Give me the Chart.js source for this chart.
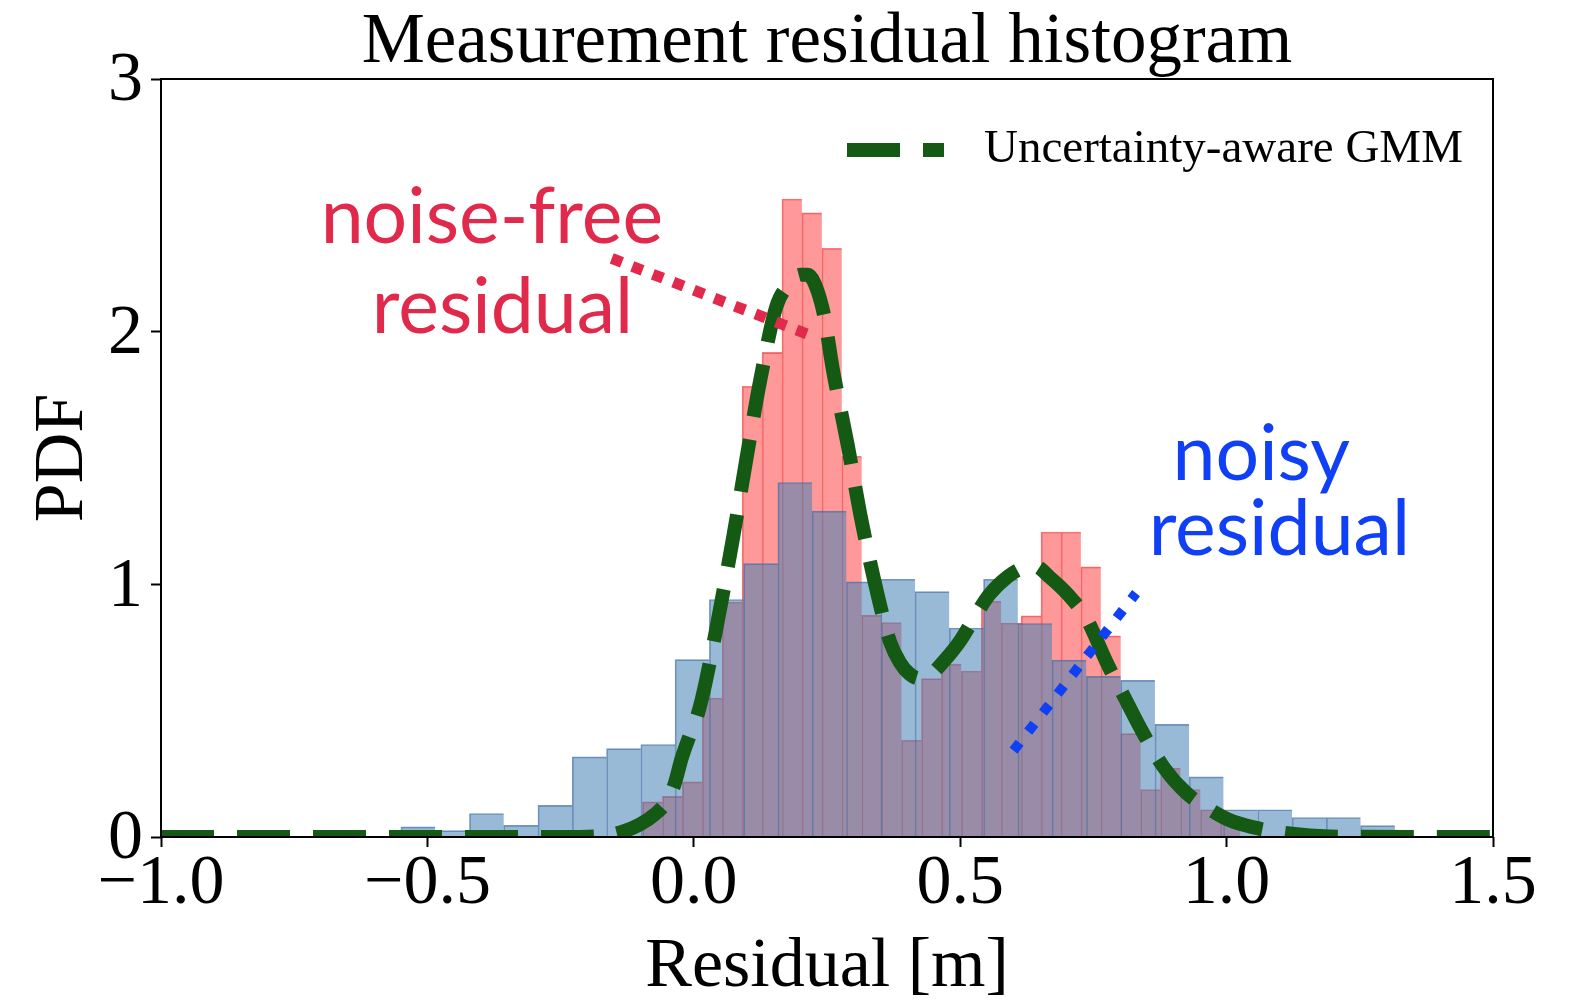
<!DOCTYPE html>
<html>
<head>
<meta charset="utf-8">
<title>Measurement residual histogram</title>
<script src="https://cdn.jsdelivr.net/npm/chart.js@4.4.1/dist/chart.umd.min.js"></script>
<style>
  html, body { margin: 0; padding: 0; background: #fff; }
</style>
</head>
<body>
<canvas id="hist" width="1575" height="1004"></canvas>
<script>
// noisy residuals: bin centres [m] and PDF heights
const noisyBins = [-0.5176, -0.4532, -0.3889, -0.3246, -0.2603, -0.1959, -0.1316, -0.0673, -0.0030,
  0.0614, 0.1257, 0.1900, 0.2543, 0.3187, 0.3830, 0.4473, 0.5117, 0.5760, 0.6403, 0.7046,
  0.7690, 0.8333, 0.8976, 0.9620, 1.0263, 1.0906, 1.1550, 1.2193, 1.2836];
const noisyPdf = [0.04, 0.025, 0.093, 0.046, 0.125, 0.317, 0.35, 0.366, 0.702,
  0.94, 1.082, 1.403, 1.29, 1.01, 1.02, 0.971, 0.827, 1.02, 0.845, 0.70,
  0.636, 0.62, 0.446, 0.238, 0.108, 0.108, 0.077, 0.077, 0.045];

// noise-free residuals
const cleanBins = [-0.0776, -0.0402, -0.0028, 0.0346, 0.0720, 0.1094, 0.1468, 0.1842, 0.2216, 0.2590,
  0.2964, 0.3338, 0.3712, 0.4086, 0.4460, 0.4834, 0.5208, 0.5582, 0.5956, 0.6330,
  0.6704, 0.7078, 0.7452, 0.7826, 0.8200, 0.8574, 0.8948, 0.9322, 0.9696, 1.0070];
const cleanPdf = [0.139, 0.161, 0.218, 0.55, 0.93, 1.784, 1.918, 2.525, 2.47, 2.33,
  1.507, 0.878, 0.849, 0.383, 0.627, 0.684, 0.657, 0.933, 0.847, 0.875,
  1.207, 1.207, 1.069, 0.796, 0.409, 0.188, 0.273, 0.188, 0.108, 0.082];

// GMM density
const gmmX = [-1.0, -0.739, -0.458, -0.251, -0.176, -0.135, -0.101, -0.073, -0.051, -0.036, -0.023,
  -0.008, 0.008, 0.022, 0.049, 0.075, 0.099, 0.124, 0.155, 0.180, 0.199, 0.214, 0.227, 0.244,
  0.261, 0.272, 0.289, 0.315, 0.346, 0.368, 0.387, 0.405, 0.424, 0.443, 0.471, 0.501, 0.527,
  0.555, 0.589, 0.615, 0.640, 0.668, 0.702, 0.737, 0.776, 0.809, 0.842, 0.884, 0.924, 0.968,
  1.006, 1.053, 1.099, 1.156, 1.212, 1.5];
const gmmY = [0, 0, 0, 0, 0.004, 0.02, 0.05, 0.09, 0.14, 0.21, 0.31,
  0.40, 0.49, 0.61, 0.90, 1.20, 1.50, 1.80, 2.10, 2.19, 2.225, 2.225, 2.19, 2.07,
  1.85, 1.73, 1.55, 1.25, 0.95, 0.775, 0.69, 0.645, 0.627, 0.64, 0.70, 0.78, 0.87,
  0.96, 1.03, 1.063, 1.072, 1.028, 0.96, 0.865, 0.686, 0.55, 0.416, 0.27, 0.175, 0.11,
  0.066, 0.037, 0.019, 0.006, 0.001, 0];

// dotted pointers from the labels
const cleanPointerX = [-0.154, 0.221];
const cleanPointerY = [2.29, 1.984];
const noisyPointerX = [0.600, 0.830];
const noisyPointerY = [0.342, 0.965];

const xTicks = [-1, -0.5, 0, 0.5, 1, 1.5];
const yTicks = [0, 1, 2, 3];

const serif = 'Liberation Serif';
const sans = 'Lato';
const green = '#145a14';
const crimson = '#e0294b';
const blue = '#1040f5';

const notes = [
  {text: 'noise-free', x: -0.379, y: 2.349, color: crimson},
  {text: 'residual', x: -0.359, y: 1.993, color: crimson},
  {text: 'noisy', x: 1.065, y: 1.412, color: blue},
  {text: 'residual', x: 1.099, y: 1.115, color: blue}
];

function toPts(xs, ys) {
  return xs.map((x, i) => ({x: x, y: ys[i]}));
}

function tickText(v) {
  return (v < 0 ? '\u2212' : '') + Math.abs(v).toFixed(1);
}

// frame, legend and the two text labels
const overlay = {
  id: 'overlay',
  afterDatasetsDraw(chart) {
    const {ctx, chartArea: a, scales} = chart;
    const x = scales.x, y = scales.y;
    ctx.save();

    ctx.strokeStyle = '#000';
    ctx.lineWidth = 2;
    ctx.strokeRect(a.left, a.top, a.right - a.left, a.bottom - a.top);

    const gmm = chart.data.datasets[0];
    ctx.beginPath();
    ctx.setLineDash(gmm.borderDash);
    ctx.lineWidth = gmm.borderWidth;
    ctx.strokeStyle = gmm.borderColor;
    ctx.moveTo(847, 150);
    ctx.lineTo(944, 150);
    ctx.stroke();
    ctx.setLineDash([]);
    ctx.fillStyle = '#000';
    ctx.font = '47px "' + serif + '"';
    ctx.textAlign = 'left';
    ctx.textBaseline = 'middle';
    ctx.fillText(gmm.label, 984, 150);

    ctx.font = '77px "' + sans + '"';
    ctx.textAlign = 'center';
    ctx.textBaseline = 'alphabetic';
    notes.forEach(n => {
      ctx.fillStyle = n.color;
      ctx.fillText(n.text, x.getPixelForValue(n.x), y.getPixelForValue(n.y));
    });
    ctx.restore();
  }
};

const font70 = {family: serif, size: 70, lineHeight: 1};

const hiddenX = {type: 'linear', min: -1, max: 1.5, display: false, offset: false};

var ctx = document.getElementById('hist').getContext('2d');
var histChart = new Chart(ctx, {
  type: 'line',
  data: {
    datasets: [
      {
        label: 'Uncertainty-aware GMM',
        data: toPts(gmmX, gmmY),
        xAxisID: 'x',
        borderColor: green,
        borderWidth: 14,
        borderDash: [53, 23],
        pointRadius: 0,
        cubicInterpolationMode: 'monotone',
        clip: 0,
        order: 2
      },
      {
        label: 'noisy',
        type: 'bar',
        data: toPts(noisyBins, noisyPdf),
        xAxisID: 'xb',
        backgroundColor: 'rgba(70,130,180,0.55)',
        borderColor: 'rgba(60,105,160,0.7)',
        borderWidth: {left: 1, right: 0, top: 1, bottom: 0},
        borderSkipped: false,
        barPercentage: 1,
        categoryPercentage: 1,
        grouped: false,
        order: 3
      },
      {
        label: 'noise-free',
        type: 'bar',
        data: toPts(cleanBins, cleanPdf),
        xAxisID: 'xr',
        backgroundColor: 'rgba(255,0,0,0.4)',
        borderColor: 'rgba(235,40,40,0.6)',
        borderWidth: {left: 1, right: 0, top: 1, bottom: 0},
        borderSkipped: false,
        barPercentage: 1,
        categoryPercentage: 1,
        grouped: false,
        order: 4
      },
      {
        label: 'clean pointer',
        data: toPts(cleanPointerX, cleanPointerY),
        xAxisID: 'x',
        borderColor: crimson,
        borderWidth: 11,
        borderDash: [11, 11],
        pointRadius: 0,
        clip: false,
        order: 1
      },
      {
        label: 'noisy pointer',
        data: toPts(noisyPointerX, noisyPointerY),
        xAxisID: 'x',
        borderColor: blue,
        borderWidth: 10,
        borderDash: [10, 14],
        pointRadius: 0,
        clip: false,
        order: 1
      }
    ]
  },
  options: {
    responsive: false,
    animation: false,
    events: [],
    layout: {padding: {left: 0, right: 82, top: 0, bottom: 0}},
    scales: {
      x: {
        type: 'linear',
        min: -1,
        max: 1.5,
        offset: false,
        afterBuildTicks: s => { s.ticks = xTicks.map(v => ({value: v})); },
        afterFit: s => { s.height = 167; },
        ticks: {
          callback: v => tickText(v),
          font: font70,
          color: '#000',
          padding: 3,
          maxRotation: 0,
          autoSkip: false
        },
        grid: {drawOnChartArea: false, offset: false, tickLength: 10, tickWidth: 2, tickColor: '#000'},
        border: {display: false},
        title: {display: true, text: 'Residual [m]', font: font70, color: '#000', padding: {top: 0, bottom: 1}}
      },
      xb: hiddenX,
      xr: hiddenX,
      y: {
        min: 0,
        max: 3,
        afterBuildTicks: s => { s.ticks = yTicks.map(v => ({value: v})); },
        afterFit: s => { s.width = 161; },
        ticks: {font: font70, color: '#000', padding: 8, labelOffset: 3},
        grid: {drawOnChartArea: false, tickLength: 10, tickWidth: 2, tickColor: '#000'},
        border: {display: false},
        title: {display: true, text: 'PDF', font: font70, color: '#000', padding: {top: 29, bottom: 0}}
      }
    },
    plugins: {
      legend: {display: false},
      tooltip: {enabled: false},
      title: {
        display: true,
        text: 'Measurement residual histogram',
        fullSize: false,
        font: {family: serif, size: 71, weight: 'normal', lineHeight: 1},
        color: '#000',
        padding: {top: 8, bottom: 0}
      }
    }
  },
  plugins: [overlay]
});
</script>
</body>
</html>
